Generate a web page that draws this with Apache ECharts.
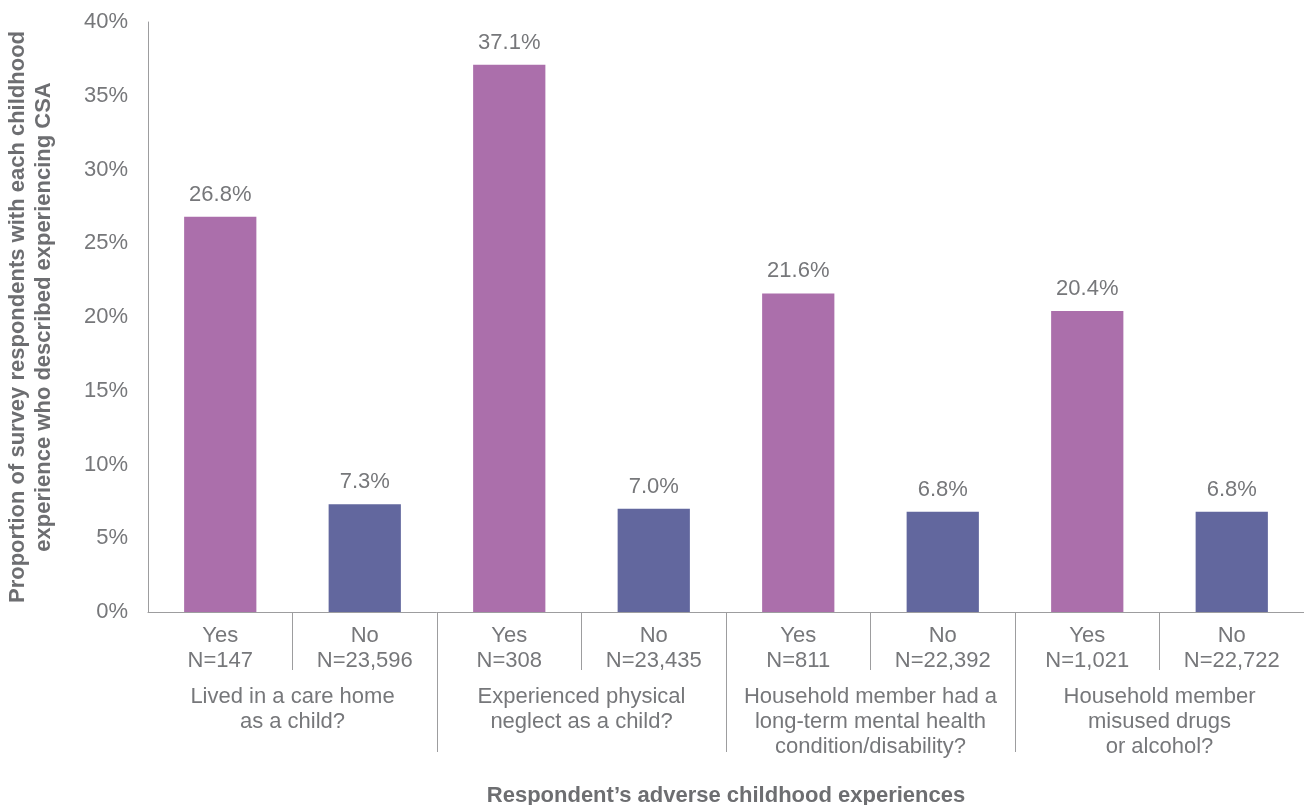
<!DOCTYPE html>
<html>
<head>
<meta charset="utf-8">
<script src="https://cdn.jsdelivr.net/npm/echarts@6/dist/echarts.min.js"></script>
<style>
  html, body { margin: 0; padding: 0; background: #fff; }
  #chart { width: 1304px; height: 805px; }
</style>
</head>
<body>
<div id="chart"></div>
<script>
// 数据
const answers = ['Yes', 'No', 'Yes', 'No', 'Yes', 'No', 'Yes', 'No'];
const sampleSizes = ['N=147', 'N=23,596', 'N=308', 'N=23,435', 'N=811', 'N=22,392', 'N=1,021', 'N=22,722'];
const values = [26.8, 7.3, 37.1, 7.0, 21.6, 6.8, 20.4, 6.8];
const groups = [
  'Lived in a care home\nas a child?',
  'Experienced physical\nneglect as a child?',
  'Household member had a\nlong-term mental health\ncondition/disability?',
  'Household member\nmisused drugs\nor alcohol?',
];
const yTicks = [0, 5, 10, 15, 20, 25, 30, 35, 40];
// 分隔线位置（以类目为单位）
const pairDividers = [1, 3, 5, 7];
const groupDividers = [2, 4, 6];

const textColor = '#76777a';
const lineColor = '#9d9d9f';
const fontFamily = '"Liberation Sans", Arial, sans-serif';

const chartDom = document.getElementById('chart');
const myChart = echarts.init(chartDom);

// 只画刻度的辅助轴
const dividerAxis = (ticks, length) => ({
  type: 'value',
  position: 'bottom',
  min: 0,
  max: answers.length,
  axisLine: { show: false },
  axisLabel: { show: false },
  splitLine: { show: false },
  axisTick: { show: true, length, customValues: ticks, lineStyle: { color: lineColor } },
});

const option = {
  textStyle: { fontFamily },
  grid: { left: 148, right: 0, top: 22, bottom: 193, outerBoundsMode: 'none', containLabel: false },
  xAxis: [
    {
      type: 'category',
      data: answers.map((a, i) => a + '\n' + sampleSizes[i]),
      axisLine: { lineStyle: { color: lineColor, width: 1 } },
      axisTick: { show: false },
      axisLabel: {
        color: textColor,
        fontSize: 22,
        lineHeight: 25,
        margin: 11,
        interval: 0,
      },
    },
    {
      type: 'category',
      position: 'bottom',
      data: groups,
      axisLine: { show: false },
      axisTick: { show: false },
      axisLabel: {
        color: textColor,
        fontSize: 22,
        lineHeight: 25,
        margin: 72,
        interval: 0,
      },
      name: 'Respondent’s adverse childhood experiences',
      nameLocation: 'middle',
      nameGap: 173,
      nameTextStyle: { color: '#6d6e71', fontSize: 22, fontWeight: 'bold' },
    },
    dividerAxis(pairDividers, 58),
    dividerAxis(groupDividers, 140),
  ],
  yAxis: {
    type: 'value',
    min: yTicks[0],
    max: yTicks[yTicks.length - 1],
    interval: 5,
    axisLine: { show: true, lineStyle: { color: lineColor } },
    axisTick: { show: false },
    splitLine: { show: false },
    axisLabel: {
      color: textColor,
      fontSize: 22,
      margin: 20,
      formatter: '{value}%',
    },
    name: 'Proportion of survey respondents with each childhood\nexperience who described experiencing CSA',
    nameLocation: 'middle',
    nameRotate: 90,
    nameGap: 91,
    nameTextStyle: { color: '#6d6e71', fontSize: 22, fontWeight: 'bold', lineHeight: 26 },
  },
  series: [
    {
      type: 'bar',
      xAxisIndex: 0,
      barWidth: '50%',
      data: values,
      itemStyle: {
        color: (p) => (p.dataIndex % 2 === 0 ? '#ab6fab' : '#62679e'),
      },
      label: {
        show: true,
        position: 'top',
        distance: 11,
        color: textColor,
        fontSize: 22,
        formatter: (p) => p.value.toFixed(1) + '%',
      },
    },
  ],
};

option && myChart.setOption(option);
</script>
</body>
</html>
